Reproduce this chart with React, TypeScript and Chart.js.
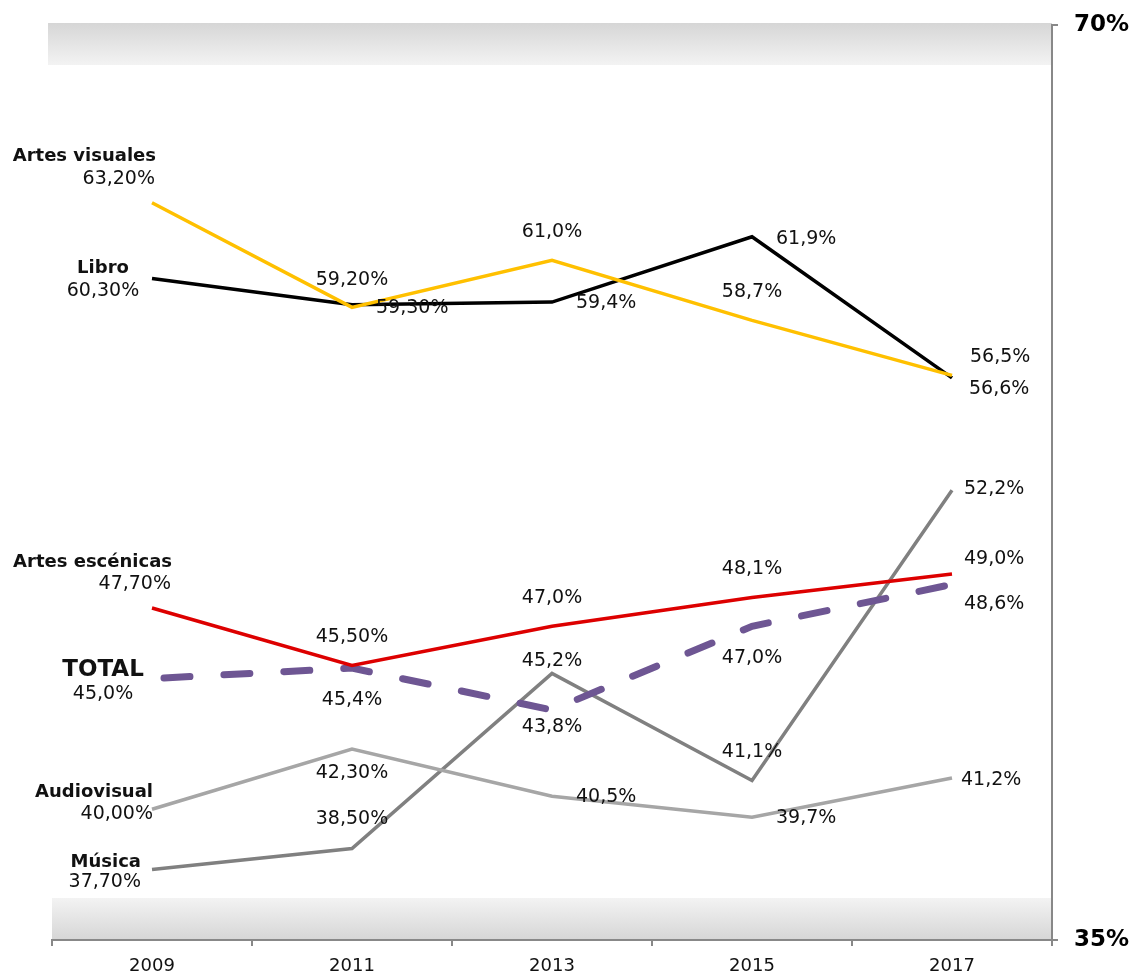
import React, { useEffect, useRef } from "react";
import { Chart, registerables } from "chart.js";

Chart.register(...registerables);

const years = ["2009", "2011", "2013", "2015", "2017"];
const artesVisuales = [63.2, 59.2, 61.0, 58.7, 56.6];
const libro = [60.3, 59.3, 59.4, 61.9, 56.5];
const artesEscenicas = [47.7, 45.5, 47.0, 48.1, 49.0];
const total = [45.0, 45.4, 43.8, 47.0, 48.6];
const audiovisual = [40.0, 42.3, 40.5, 39.7, 41.2];
const musica = [37.7, 38.5, 45.2, 41.1, 52.2];
const yTicks = [35, 70];

const seriesNames = ["Artes visuales", "Libro", "Artes escénicas", "TOTAL", "Audiovisual", "Música"];

// label placement: [dx, dy, align] per point, relative to the point
type Place = [number, number, CanvasTextAlign];
const valuePlaces: Place[][] = [
  [[3, -24, "right"], [0, -27, "center"], [0, -28, "center"], [0, -28, "center"], [17, 14, "left"]],
  [[-49, 12, "center"], [24, 3, "left"], [24, 1, "left"], [24, 2, "left"], [18, -21, "left"]],
  [[19, -24, "right"], [0, -28, "center"], [0, -28, "center"], [0, -28, "center"], [12, -15, "left"]],
  [[-49, 15, "center"], [0, 32, "center"], [0, 17, "center"], [0, 32, "center"], [12, 20, "left"]],
  [[1, 5, "right"], [0, 24, "center"], [24, 1, "left"], [24, 1, "left"], [9, 2, "left"]],
  [[-11, 13, "right"], [0, -29, "center"], [0, -12, "center"], [0, -28, "center"], [12, -1, "left"]],
];
const namePlaces: Place[] = [
  [4, -46, "right"],
  [-49, -10, "center"],
  [20, -46, "right"],
  [-49, -9, "center"],
  [1, -17, "right"],
  [-11, -7, "right"],
];

const FONT = "'DejaVu Sans', Verdana, sans-serif";

function fmt(v: number, i: number, isTotal: boolean) {
  const d = isTotal ? 1 : i < 2 ? 2 : 1;
  return v.toFixed(d).replace(".", ",") + "%";
}

const bandsPlugin = {
  id: "bands",
  beforeDraw(chart: any) {
    const { ctx, chartArea } = chart;
    const ys = chart.scales.y;
    const top = ys.getPixelForValue(70);
    const bottom = ys.getPixelForValue(35);
    ctx.save();
    let g = ctx.createLinearGradient(0, top - 2, 0, top + 40);
    g.addColorStop(0, "#d6d6d6");
    g.addColorStop(1, "#f3f3f3");
    ctx.fillStyle = g;
    ctx.fillRect(chartArea.left - 4, top - 2, chartArea.right - chartArea.left + 4, 42);
    g = ctx.createLinearGradient(0, bottom - 42, 0, bottom);
    g.addColorStop(0, "#f3f3f3");
    g.addColorStop(1, "#d6d6d6");
    ctx.fillStyle = g;
    ctx.fillRect(chartArea.left, bottom - 42, chartArea.right - chartArea.left, 42);
    ctx.restore();
  },
};

const labelsPlugin = {
  id: "pointLabels",
  afterDatasetsDraw(chart: any) {
    const { ctx } = chart;
    ctx.save();
    ctx.fillStyle = "#111";
    ctx.textBaseline = "middle";
    chart.data.datasets.forEach((ds: any, di: number) => {
      const meta = chart.getDatasetMeta(di);
      const isTotal = di === 3;
      meta.data.forEach((pt: any, i: number) => {
        const [dx, dy, align] = valuePlaces[di][i];
        ctx.font = `19px ${FONT}`;
        ctx.textAlign = align;
        ctx.fillText(fmt(ds.data[i], i, isTotal), pt.x + dx, pt.y + dy);
      });
      const p0 = meta.data[0];
      const [nx, ny, na] = namePlaces[di];
      ctx.font = isTotal ? `bold 23px ${FONT}` : `bold 18px ${FONT}`;
      ctx.textAlign = na;
      ctx.fillText(seriesNames[di], p0.x + nx, p0.y + ny);
    });
    ctx.restore();
  },
};

export default function App() {
  const ref = useRef<HTMLCanvasElement | null>(null);
  useEffect(() => {
    if (!ref.current) return;
    const line = (data: number[], color: string, extra: any = {}) => ({
      data,
      borderColor: color,
      backgroundColor: color,
      borderWidth: 3.5,
      pointRadius: 0,
      tension: 0,
      fill: false,
      ...extra,
    });
    const chart = new Chart(ref.current, {
      type: "line",
      data: {
        labels: years,
        datasets: [
          line(artesVisuales, "#FFC000"),
          line(libro, "#000000"),
          line(artesEscenicas, "#DD0000"),
          line(total, "#6E5693", {
            borderWidth: 7,
            borderDash: [26, 34],
            borderDashOffset: 48,
            borderCapStyle: "round",
          }),
          line(audiovisual, "#A6A6A6"),
          line(musica, "#808080"),
        ],
      },
      options: {
        responsive: false,
        animation: false,
        layout: { padding: { left: 52, top: 25, right: 0, bottom: 0 } },
        plugins: { legend: { display: false }, tooltip: { enabled: false } },
        scales: {
          x: {
            type: "category",
            offset: true,
            afterFit: (s: any) => {
              s.height = 34;
              s.paddingLeft = 0;
              s.paddingRight = 0;
            },
            grid: {
              offset: true,
              drawOnChartArea: false,
              drawTicks: true,
              tickLength: 6,
              color: "#888",
              lineWidth: 2,
            },
            border: { display: true, color: "#888", width: 2 },
            ticks: {
              color: "#111",
              font: { family: FONT, size: 18 },
              padding: 10,
              maxRotation: 0,
            },
          },
          y: {
            position: "right",
            min: 35,
            max: 70,
            afterFit: (s: any) => {
              s.width = 82;
              s.paddingTop = 0;
              s.paddingBottom = 0;
            },
            afterBuildTicks: (s: any) => {
              s.ticks = yTicks.map((v) => ({ value: v }));
            },
            grid: {
              drawOnChartArea: false,
              drawTicks: true,
              tickLength: 6,
              color: "#888",
              lineWidth: 2,
            },
            border: { display: true, color: "#888", width: 2 },
            ticks: {
              color: "#000",
              font: { family: FONT, size: 23, weight: "bold" },
              padding: 16,
              callback: (v: any) => v + "%",
            },
          },
        },
      },
      plugins: [bandsPlugin, labelsPlugin],
    });
    return () => chart.destroy();
  }, []);
  return (
    <div style={{ position: "absolute", left: 0, top: 0, width: 1134, height: 974, background: "#fff" }}>
      <canvas ref={ref} width={1134} height={974} style={{ display: "block" }} />
    </div>
  );
}
